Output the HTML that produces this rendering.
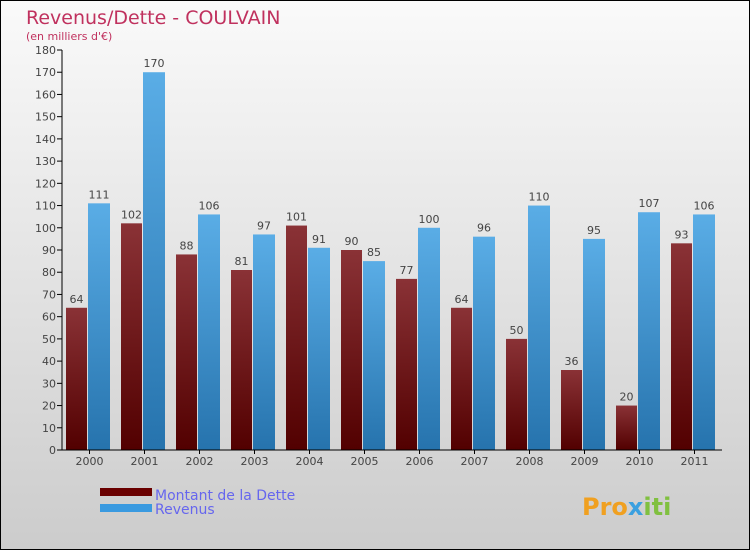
<!DOCTYPE html>
<html><head><meta charset="utf-8"><style>
body{margin:0}
svg text{font-family:"DejaVu Sans","Liberation Sans",sans-serif}
</style></head><body>
<svg id="c" width="750" height="550" xmlns="http://www.w3.org/2000/svg">
<defs>
<linearGradient id="bg" x1="0" y1="0" x2="0" y2="1"><stop offset="0" stop-color="#fafafa"/><stop offset="1" stop-color="#cccccc"/></linearGradient>
<linearGradient id="gd" x1="0" y1="0" x2="0" y2="1"><stop offset="0" stop-color="#8a3236"/><stop offset="1" stop-color="#520000"/></linearGradient>
<linearGradient id="gr" x1="0" y1="0" x2="0" y2="1"><stop offset="0" stop-color="#5aade6"/><stop offset="1" stop-color="#2673ad"/></linearGradient>
</defs>
<rect x="0.5" y="0.5" width="749" height="549" fill="url(#bg)" stroke="#000"/>
<text x="26" y="24" font-size="19" fill="#c0315e">Revenus/Dette - COULVAIN</text>
<text x="26" y="40" font-size="11" fill="#c0315e">(en milliers d'€)</text>
<g id="plot"></g>
<rect x="100" y="488" width="52" height="8" fill="#6a0000"/>
<text x="155" y="500" font-size="14" fill="#6666ee">Montant de la Dette</text>
<rect x="100" y="504" width="52" height="8" fill="#3a9ae0"/>
<text x="155" y="514" font-size="14" fill="#6666ee">Revenus</text>
<text x="582" y="515" font-size="24" font-weight="bold" fill="#f0a020">Pro<tspan fill="#3aa0e0">x</tspan><tspan fill="#80c040">iti</tspan></text>
</svg>
<script>
const years=["2000","2001","2002","2003","2004","2005","2006","2007","2008","2009","2010","2011"];
const dette=[64,102,88,81,101,90,77,64,50,36,20,93];
const revenus=[111,170,106,97,91,85,100,96,110,95,107,106];
const yTicks=[0,10,20,30,40,50,60,70,80,90,100,110,120,130,140,150,160,170,180];
const NS="http://www.w3.org/2000/svg";
const g=document.getElementById('plot');
const x0=62,gw=55,y0=450,yTop=50,yMax=180;
const Y=v=>y0-(v/yMax)*(y0-yTop);
function mk(t,a){const e=document.createElementNS(NS,t);for(const k in a)e.setAttribute(k,a[k]);g.appendChild(e);return e;}
yTicks.forEach(v=>{
 const l=mk('line',{x1:57,x2:62,y1:Y(v),y2:Y(v),stroke:'#000'});
 
 
 const t=mk('text',{x:56,y:Y(v)+4,'font-size':11,'text-anchor':'end',fill:'#444'});t.textContent=v;
 
 
});
years.forEach((yr,i)=>{
 const gx=x0+i*gw;
 const d=mk('rect',{x:gx+4,y:Y(dette[i]),width:21,height:y0-Y(dette[i]),fill:'url(#gd)'});
 
 
 const r=mk('rect',{x:gx+26,y:Y(revenus[i]),width:22,height:y0-Y(revenus[i]),fill:'url(#gr)'});
 
 
 const td=mk('text',{x:gx+14.5,y:Y(dette[i])-5,'font-size':11,'text-anchor':'middle',fill:'#444'});td.textContent=dette[i];
 
 
 const tr=mk('text',{x:gx+37,y:Y(revenus[i])-5,'font-size':11,'text-anchor':'middle',fill:'#444'});tr.textContent=revenus[i];
 
 
 const tk=mk('line',{x1:gx+gw/2,x2:gx+gw/2,y1:y0,y2:y0+4,stroke:'#000'});
 
 
 const xl=mk('text',{x:gx+gw/2,y:465,'font-size':11,'text-anchor':'middle',fill:'#444'});xl.textContent=yr;
 
 
});
const ya=mk('line',{x1:62,x2:62,y1:yTop,y2:y0,stroke:'#000'});


const xa=mk('line',{x1:62,x2:722,y1:y0,y2:y0,stroke:'#000'});


</script>
</body></html>
